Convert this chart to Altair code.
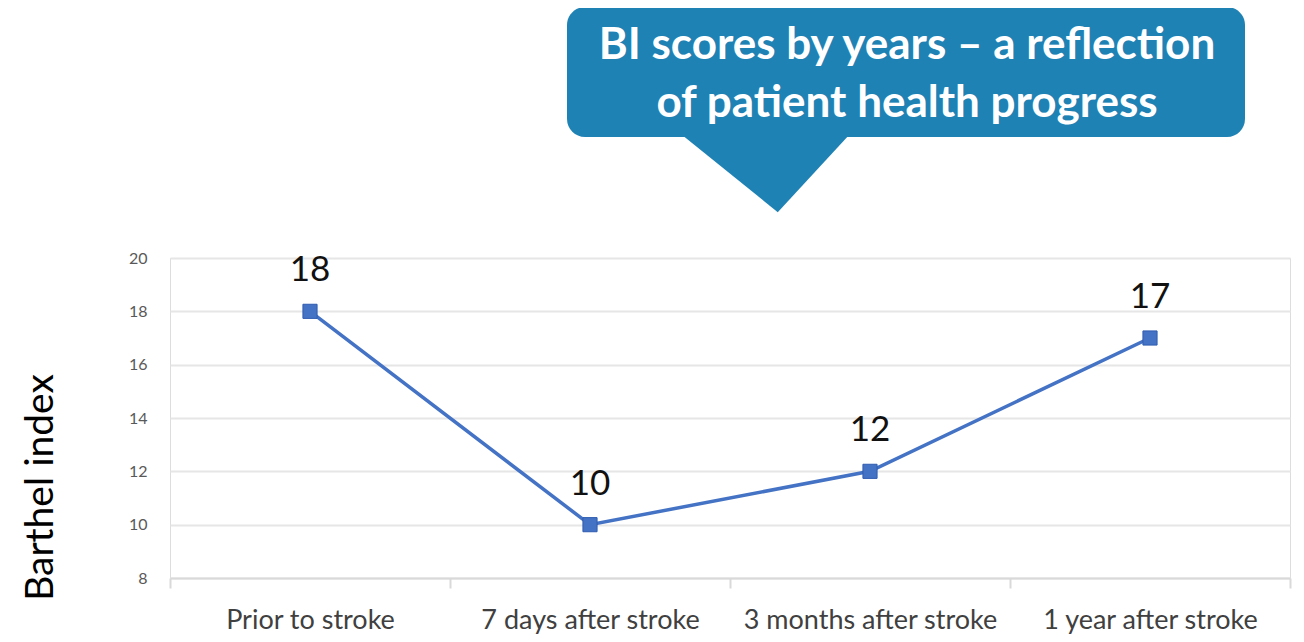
import altair as alt
import pandas as pd

categories = ["Prior to stroke", "7 days after stroke", "3 months after stroke", "1 year after stroke"]
scores = [18, 10, 12, 17]
y_ticks = [8, 10, 12, 14, 16, 18, 20]
callout_lines = ["BI scores by years \u2013 a reflection", "of patient health progress"]
y_title = "Barthel index"

df = pd.DataFrame({"stage": categories, "score": scores})

BLUE = "#4472C4"
CALLOUT = "#1F82B5"
FONT = "Lato"

x_enc = alt.X(
    "stage:N", sort=categories, title=None,
    scale=alt.Scale(paddingInner=0, paddingOuter=0),
    axis=alt.Axis(labelAngle=0, labelFontSize=27, labelColor="#404040", labelFont=FONT,
                  labelLimit=400, domainColor="#d9d9d9", domainWidth=2, tickColor="#d9d9d9",
                  tickWidth=2, tickSize=10, tickBand="extent", labelPadding=19, grid=False),
)
y_enc = alt.Y(
    "score:Q", scale=alt.Scale(domain=[8, 20], nice=False, zero=False),
    axis=alt.Axis(values=y_ticks, title=y_title, titleFontSize=39, titleFontWeight="normal",
                  titleFont=FONT, titleColor="#000000", titleAngle=270, titleX=-130, titleY=229,
                  titleAlign="center", titleBaseline="middle",
                  labelFontSize=16, labelColor="#595959", labelFont=FONT, labelPadding=23,
                  domain=False, ticks=False, gridColor="#e6e6e6", gridWidth=2),
)

base = alt.Chart(df)
line = base.mark_line(color=BLUE, strokeWidth=3.5).encode(x=x_enc, y=y_enc)
pts = base.mark_point(shape="square", filled=True, size=200, color=BLUE, opacity=1,
                      stroke="#2F5CB0", strokeWidth=1).encode(x=x_enc, y=y_enc)
labels = base.mark_text(dy=-41, fontSize=35, font=FONT, color="#111111", baseline="middle").encode(
    x=x_enc, y=y_enc, text="score:Q")

one = alt.Data(values=[{"k": 1}])
box = alt.Chart(one).mark_rect(color=CALLOUT, cornerRadius=18).encode(
    x=alt.value(397), x2=alt.value(1075), y=alt.value(-251), y2=alt.value(-121))
tri = alt.Chart(one).mark_point(
    shape="M -0.99 0 L 1 0 L 0.15 0.92 Z", size=28900, filled=True, color=CALLOUT,
    opacity=1, strokeWidth=0).encode(x=alt.value(595), y=alt.value(-124))
t1 = alt.Chart(one).mark_text(fontSize=44, fontWeight="bold", font=FONT, color="white",
                              baseline="middle", align="center").encode(
    x=alt.value(737), y=alt.value(-212), text=alt.value(callout_lines[0]))
t2 = alt.Chart(one).mark_text(fontSize=44, fontWeight="bold", font=FONT, color="white",
                              baseline="middle", align="center").encode(
    x=alt.value(737), y=alt.value(-154), text=alt.value(callout_lines[1]))

chart = alt.layer(line, pts, labels, box, tri, t1, t2).properties(
    width=1120, height=320,
    autosize=alt.AutoSizeParams(type="none"),
    padding={"left": 162, "top": 250, "right": 6, "bottom": 56},
).configure_view(stroke=None).configure(background="white")

chart.save("out.html", embed_options={"renderer": "svg", "actions": False})
